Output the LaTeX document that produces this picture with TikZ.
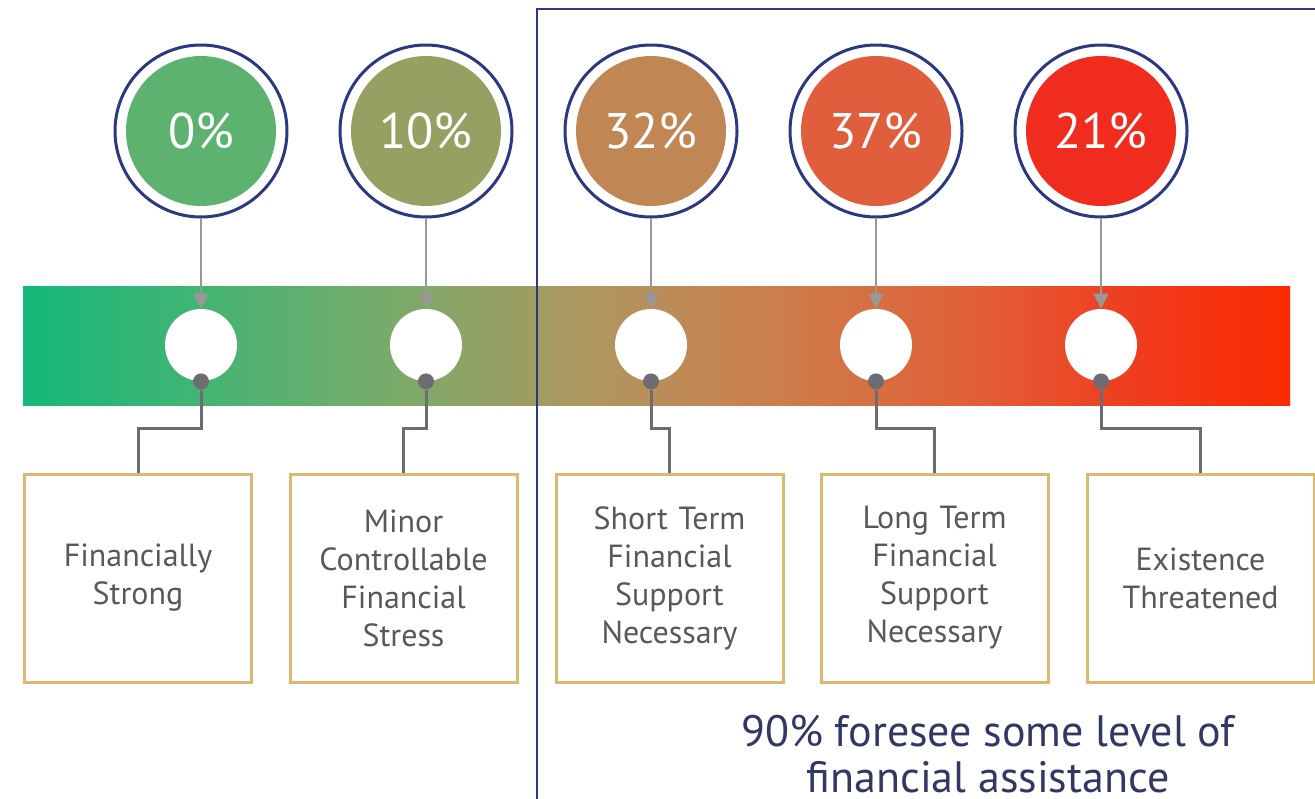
\documentclass[tikz,border=0pt]{standalone}
\usepackage{fontspec}
\setmainfont{PT Sans}
\usepackage{tikz}
\usetikzlibrary{arrows.meta,positioning,calc}
\definecolor{navy}{RGB}{44,56,130}
\definecolor{capnavy}{RGB}{50,56,100}
\definecolor{tan}{RGB}{220,184,114}
\definecolor{linkgray}{RGB}{108,108,114}
\definecolor{feedgray}{RGB}{152,152,152}
\definecolor{boxtext}{RGB}{88,88,88}
\definecolor{heatA}{RGB}{94,178,112}
\definecolor{heatB}{RGB}{151,160,99}
\definecolor{heatC}{RGB}{192,134,84}
\definecolor{heatD}{RGB}{224,94,59}
\definecolor{heatE}{RGB}{240,44,30}
% stops sit between 25bp and 75bp, the part tikz stretches over the path
\pgfdeclarehorizontalshading{heatbar}{100bp}{%
    rgb(0bp)=(0.075,0.722,0.478);
    rgb(25bp)=(0.075,0.722,0.478);
    rgb(32.5bp)=(0.275,0.706,0.451);
    rgb(40bp)=(0.490,0.667,0.412);
    rgb(47.5bp)=(0.686,0.588,0.373);
    rgb(55bp)=(0.804,0.490,0.294);
    rgb(62.5bp)=(0.882,0.373,0.216);
    rgb(69bp)=(0.941,0.235,0.118);
    rgb(75bp)=(0.980,0.165,0);
    rgb(100bp)=(0.980,0.165,0)}
\tikzset{
    pct/.style={circle,draw=navy,line width=1.5pt,fill=white,minimum size=86pt,
        inner sep=0pt,text=white,font=\fontsize{25}{28}\selectfont,
        path picture={\fill[#1] (path picture bounding box.center) circle (37.5pt);}},
    slot/.style={circle,fill=white,minimum size=36pt,inner sep=0pt},
    dot/.style={circle,fill=linkgray,minimum size=8pt,inner sep=0pt},
    feed/.style={-{Triangle[width=7.5pt,length=7.5pt]},feedgray,line width=1pt},
    link/.style={linkgray,line width=1.5pt},
    stage/.style={draw=tan,line width=1.5pt,minimum width=113.5pt,minimum height=104pt,
        inner xsep=1pt,text width=108pt,align=center,text=boxtext,
        font=\fontsize{16}{19}\selectfont},
    frame/.style={draw=navy,line width=0.8pt},
    note/.style={align=center,text=capnavy,font=\fontsize{22}{23}\selectfont},
}

\begin{document}
\begin{tikzpicture}[x=0.5pt,y=-0.5pt]
    \useasboundingbox (0,0) rectangle (1315,798);
    \shade[shading=heatbar] (23,286) rectangle (1290,405);

    \foreach \x/\p/\c [count=\i] in {201/0/heatA,426/10/heatB,651/32/heatC,876/37/heatD,1101/21/heatE}{
        \node[pct=\c] (p\i) at (\x,131) {\p\%};
        \node[slot] (s\i) at (\x,345) {};
        \draw[feed] (p\i) -- (s\i);
    }

    \node[stage] (b1) at (138,578) {Financially\\Strong};
    \node[stage] (b2) at (403.5,578) {Minor\\Controllable\\Financial\\Stress};
    \node[stage] (b3) at (669.5,578) {Short Term\\Financial\\Support\\Necessary};
    \node[stage] (b4) at (934.5,578) {Long Term\\Financial\\Support\\Necessary};
    \node[stage] (b5) at (1200.5,578) {Existence\\Threatened};

    \foreach \i in {1,...,5}{
        \node[dot] (d\i) at (s\i.south) {};
        \draw[link] (d\i) -- ++(0,47) -| (b\i.north);
    }

    \draw[frame] (537,9) rectangle (1345,830);
    \node[note] (cap) at (988,754) {90\% foresee some level of\\financial assistance};
\end{tikzpicture}
\end{document}
